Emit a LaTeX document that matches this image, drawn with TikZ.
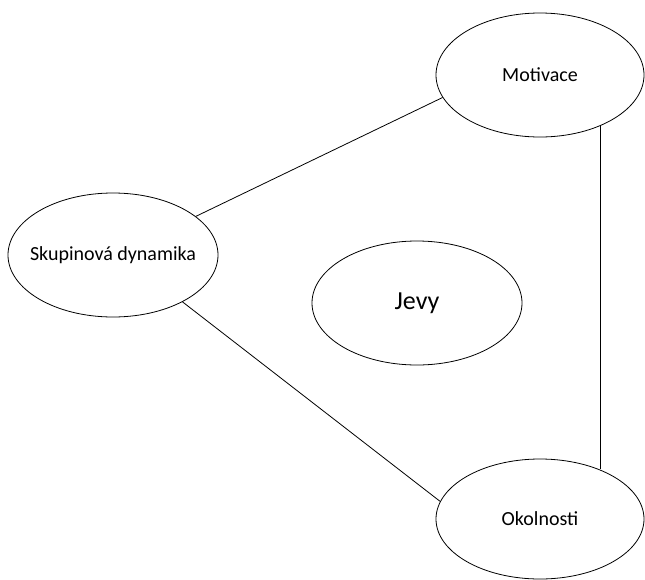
\documentclass[tikz,border=0pt]{standalone}
\usepackage{fontspec}
\setmainfont{Carlito}
\usetikzlibrary{shapes.geometric}
\begin{document}
\begin{tikzpicture}[x=1pt, y=-1pt,
            topic/.style={ellipse, draw, line width=0.8pt, inner sep=0pt, minimum width=208pt, minimum height=124pt, font=\fontsize{20}{24}\selectfont},
            core/.style={ellipse, draw, line width=0.8pt, inner sep=0pt, minimum width=210pt, minimum height=124pt, font=\fontsize{26}{31}\selectfont},
            link/.style={line width=0.8pt}
        ]
        \clip (0,0) rectangle (645,579);

        % Uzly
        \node[topic] (mot) at (540,75) {Motivace};
        \node[topic, minimum width=210pt] (skup) at (113,255) {\makebox[0pt]{Skupinová dynamika}};
        \node[core] (jevy) at (417,303) {Jevy};
        \node[topic, minimum height=120pt] (okol) at (540,519) {Okolnosti};

        % Spojnice
        \draw[link] (skup.25) -- (mot.193);
        \draw[link] (skup.-34) -- (okol.170);
        \draw[link] (mot.-40) -- (mot.-40 |- okol.40);

    \end{tikzpicture}
\end{document}
